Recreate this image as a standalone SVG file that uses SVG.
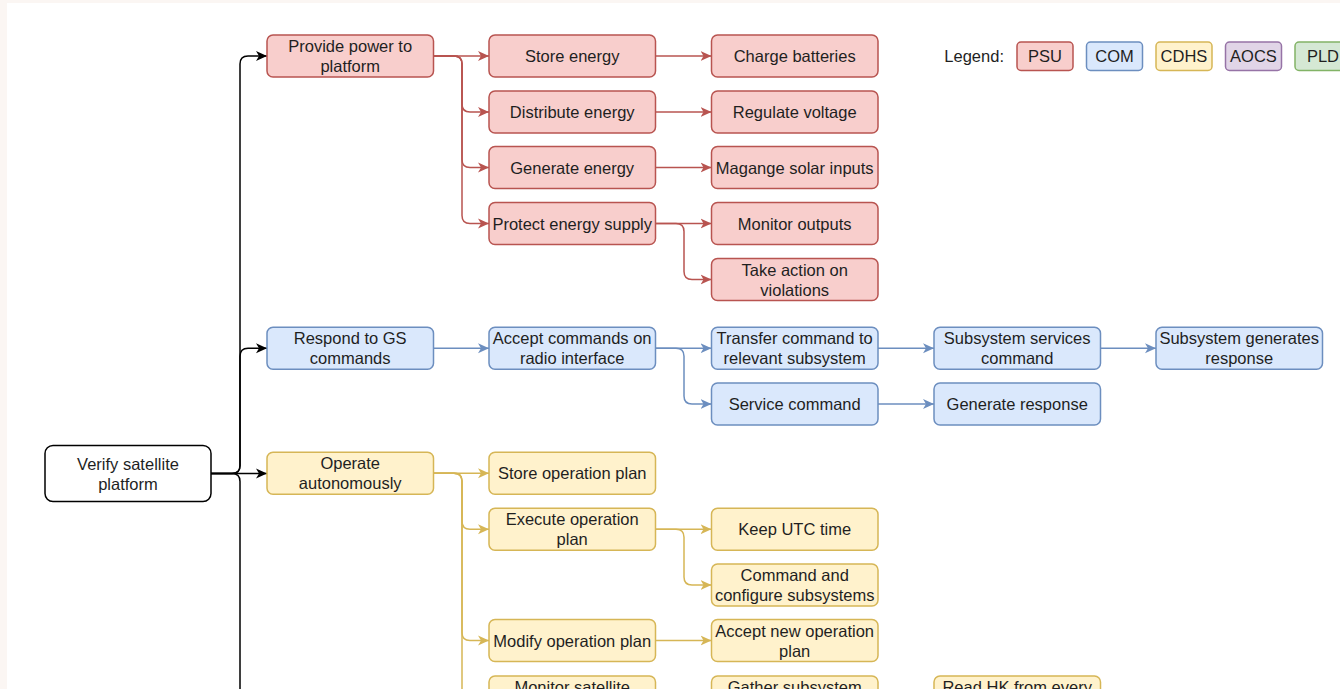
<svg xmlns="http://www.w3.org/2000/svg" width="1340" height="689" viewBox="0 0 1340 689">
<style>
text{font-family:"Liberation Sans",Arial,sans-serif;font-size:16.5px;fill:#1f1f1f;text-anchor:middle}
.n{stroke-width:1.5}
.psu{fill:#f8cecc;stroke:#b85450}
.com{fill:#dae8fc;stroke:#6c8ebf}
.cdhs{fill:#fff2cc;stroke:#d6b656}
.aocs{fill:#e1d5e7;stroke:#9673a6}
.pld{fill:#d5e8d4;stroke:#82b366}
.root{fill:#ffffff;stroke:#000000}
.e{fill:none;stroke-width:1.5}
.er{stroke:#b85450}
.eb{stroke:#6c8ebf}
.ey{stroke:#d6b656}
.ek{stroke:#000000}
</style>
<defs>
<marker id="ar" markerUnits="userSpaceOnUse" markerWidth="12" markerHeight="12" viewBox="0 0 12 12" refX="11" refY="6" orient="auto"><path d="M0,1 L11,6 L0,11 L3,6 z" fill="#b85450"/></marker>
<marker id="ab" markerUnits="userSpaceOnUse" markerWidth="12" markerHeight="12" viewBox="0 0 12 12" refX="11" refY="6" orient="auto"><path d="M0,1 L11,6 L0,11 L3,6 z" fill="#6c8ebf"/></marker>
<marker id="ay" markerUnits="userSpaceOnUse" markerWidth="12" markerHeight="12" viewBox="0 0 12 12" refX="11" refY="6" orient="auto"><path d="M0,1 L11,6 L0,11 L3,6 z" fill="#d6b656"/></marker>
<marker id="ak" markerUnits="userSpaceOnUse" markerWidth="12" markerHeight="12" viewBox="0 0 12 12" refX="11" refY="6" orient="auto"><path d="M0,1 L11,6 L0,11 L3,6 z" fill="#000000"/></marker>
</defs>
<rect x="0" y="0" width="1340" height="689" fill="#fbf6f3"/>
<rect x="7" y="3" width="1333" height="686" fill="#ffffff"/>

<g id="connectors">
<g class="e ek">
<path d="M211,473.5 H267" marker-end="url(#ak)"/>
<path d="M211,473.5 H232 Q240,473.5 240,465.5 V64 Q240,56 248,56 H267" marker-end="url(#ak)"/>
<path d="M211,473.5 H232 Q240,473.5 240,465.5 V356.3 Q240,348.3 248,348.3 H267" marker-end="url(#ak)"/>
<path d="M211,473.5 H232 Q240,473.5 240,481.5 V700"/>
</g>
<g class="e er">
<path d="M433.5,56 H489" marker-end="url(#ar)"/>
<path d="M433.5,56 H454 Q462,56 462,64 V104 Q462,112 470,112 H489" marker-end="url(#ar)"/>
<path d="M433.5,56 H454 Q462,56 462,64 V159.5 Q462,167.5 470,167.5 H489" marker-end="url(#ar)"/>
<path d="M433.5,56 H454 Q462,56 462,64 V215.5 Q462,223.5 470,223.5 H489" marker-end="url(#ar)"/>
<path d="M655.5,56 H711.5" marker-end="url(#ar)"/>
<path d="M655.5,112 H711.5" marker-end="url(#ar)"/>
<path d="M655.5,167.5 H711.5" marker-end="url(#ar)"/>
<path d="M655.5,223.5 H711.5" marker-end="url(#ar)"/>
<path d="M655.5,223.5 H676 Q684,223.5 684,231.5 V271.5 Q684,279.5 692,279.5 H711.5" marker-end="url(#ar)"/>
</g>
<g class="e eb">
<path d="M433.5,348.3 H489" marker-end="url(#ab)"/>
<path d="M655.5,348.3 H711.5" marker-end="url(#ab)"/>
<path d="M655.5,348.3 H676 Q684,348.3 684,356.3 V396 Q684,404 692,404 H711.5" marker-end="url(#ab)"/>
<path d="M878,348.3 H934" marker-end="url(#ab)"/>
<path d="M1100.5,348.3 H1156" marker-end="url(#ab)"/>
<path d="M878,404 H934" marker-end="url(#ab)"/>
</g>
<g class="e ey">
<path d="M433.5,473.3 H489" marker-end="url(#ay)"/>
<path d="M433.5,473.3 H454 Q462,473.3 462,481.3 V521.2 Q462,529.2 470,529.2 H489" marker-end="url(#ay)"/>
<path d="M433.5,473.3 H454 Q462,473.3 462,481.3 V632.5 Q462,640.5 470,640.5 H489" marker-end="url(#ay)"/>
<path d="M433.5,473.3 H454 Q462,473.3 462,481.3 V689 Q462,697 470,697 H489" marker-end="url(#ay)"/>
<path d="M655.5,529.2 H711.5" marker-end="url(#ay)"/>
<path d="M655.5,529.2 H676 Q684,529.2 684,537.2 V577 Q684,585 692,585 H711.5" marker-end="url(#ay)"/>
<path d="M655.5,640.5 H711.5" marker-end="url(#ay)"/>
</g>
</g>

<g id="root"><rect class="n root" x="45" y="445.5" width="166" height="56" rx="8"/><text x="128" y="469.5">Verify satellite</text><text x="128" y="489.5">platform</text></g>

<g id="p1"><rect class="n psu" x="267" y="35" width="166.5" height="42" rx="6"/><text x="350.2" y="52">Provide power to</text><text x="350.2" y="72">platform</text></g>
<g id="p2"><rect class="n psu" x="489" y="35" width="166.5" height="42" rx="6"/><text x="572.2" y="62">Store energy</text></g>
<g id="p3"><rect class="n psu" x="489" y="91" width="166.5" height="42" rx="6"/><text x="572.2" y="118">Distribute energy</text></g>
<g id="p4"><rect class="n psu" x="489" y="146.5" width="166.5" height="42" rx="6"/><text x="572.2" y="173.5">Generate energy</text></g>
<g id="p5"><rect class="n psu" x="489" y="202.5" width="166.5" height="42" rx="6"/><text x="572.2" y="229.5">Protect energy supply</text></g>
<g id="p6"><rect class="n psu" x="711.5" y="35" width="166.5" height="42" rx="6"/><text x="794.7" y="62">Charge batteries</text></g>
<g id="p7"><rect class="n psu" x="711.5" y="91" width="166.5" height="42" rx="6"/><text x="794.7" y="118">Regulate voltage</text></g>
<g id="p8"><rect class="n psu" x="711.5" y="146.5" width="166.5" height="42" rx="6"/><text x="794.7" y="173.5">Magange solar inputs</text></g>
<g id="p9"><rect class="n psu" x="711.5" y="202.5" width="166.5" height="42" rx="6"/><text x="794.7" y="229.5">Monitor outputs</text></g>
<g id="p10"><rect class="n psu" x="711.5" y="258.5" width="166.5" height="42" rx="6"/><text x="794.7" y="275.5">Take action on</text><text x="794.7" y="295.5">violations</text></g>

<g id="c1"><rect class="n com" x="267" y="327.3" width="166.5" height="42" rx="6"/><text x="350.2" y="344.3">Respond to GS</text><text x="350.2" y="364.3">commands</text></g>
<g id="c2"><rect class="n com" x="489" y="327.3" width="166.5" height="42" rx="6"/><text x="572.2" y="344.3">Accept commands on</text><text x="572.2" y="364.3">radio interface</text></g>
<g id="c3"><rect class="n com" x="711.5" y="327.3" width="166.5" height="42" rx="6"/><text x="794.7" y="344.3">Transfer command to</text><text x="794.7" y="364.3">relevant subsystem</text></g>
<g id="c4"><rect class="n com" x="934" y="327.3" width="166.5" height="42" rx="6"/><text x="1017.2" y="344.3">Subsystem services</text><text x="1017.2" y="364.3">command</text></g>
<g id="c5"><rect class="n com" x="1156" y="327.3" width="166.5" height="42" rx="6"/><text x="1239.2" y="344.3">Subsystem generates</text><text x="1239.2" y="364.3">response</text></g>
<g id="c6"><rect class="n com" x="711.5" y="383" width="166.5" height="42" rx="6"/><text x="794.7" y="410">Service command</text></g>
<g id="c7"><rect class="n com" x="934" y="383" width="166.5" height="42" rx="6"/><text x="1017.2" y="410">Generate response</text></g>

<g id="d1"><rect class="n cdhs" x="267" y="452.3" width="166.5" height="42" rx="6"/><text x="350.2" y="469.3">Operate</text><text x="350.2" y="489.3">autonomously</text></g>
<g id="d2"><rect class="n cdhs" x="489" y="452.3" width="166.5" height="42" rx="6"/><text x="572.2" y="479.3">Store operation plan</text></g>
<g id="d3"><rect class="n cdhs" x="489" y="508.2" width="166.5" height="42" rx="6"/><text x="572.2" y="525.2">Execute operation</text><text x="572.2" y="545.2">plan</text></g>
<g id="d4"><rect class="n cdhs" x="711.5" y="508.2" width="166.5" height="42" rx="6"/><text x="794.7" y="535.2">Keep UTC time</text></g>
<g id="d5"><rect class="n cdhs" x="711.5" y="564" width="166.5" height="42" rx="6"/><text x="794.7" y="581">Command and</text><text x="794.7" y="601">configure subsystems</text></g>
<g id="d6"><rect class="n cdhs" x="489" y="619.5" width="166.5" height="42" rx="6"/><text x="572.2" y="646.5">Modify operation plan</text></g>
<g id="d7"><rect class="n cdhs" x="711.5" y="619.5" width="166.5" height="42" rx="6"/><text x="794.7" y="636.5">Accept new operation</text><text x="794.7" y="656.5">plan</text></g>
<g id="d8"><rect class="n cdhs" x="489" y="676" width="166.5" height="42" rx="6"/><text x="572.2" y="693">Monitor satellite</text></g>
<g id="d9"><rect class="n cdhs" x="711.5" y="676" width="166.5" height="42" rx="6"/><text x="794.7" y="693">Gather subsystem</text></g>
<g id="d10"><rect class="n cdhs" x="934" y="676" width="166.5" height="42" rx="6"/><text x="1017.2" y="693">Read HK from every</text></g>

<g id="legend">
<text x="1004" y="62" style="text-anchor:end">Legend:</text>
<g id="lg-psu"><rect class="n psu" x="1017" y="42" width="56" height="28.5" rx="4"/><text x="1045" y="62">PSU</text></g>
<g id="lg-com"><rect class="n com" x="1086.5" y="42" width="56" height="28.5" rx="4"/><text x="1114.5" y="62">COM</text></g>
<g id="lg-cdhs"><rect class="n cdhs" x="1156" y="42" width="56" height="28.5" rx="4"/><text x="1184" y="62">CDHS</text></g>
<g id="lg-aocs"><rect class="n aocs" x="1225.5" y="42" width="56" height="28.5" rx="4"/><text x="1253.5" y="62">AOCS</text></g>
<g id="lg-pld"><rect class="n pld" x="1295" y="42" width="56" height="28.5" rx="4"/><text x="1323" y="62">PLD</text></g>
</g>
</svg>
